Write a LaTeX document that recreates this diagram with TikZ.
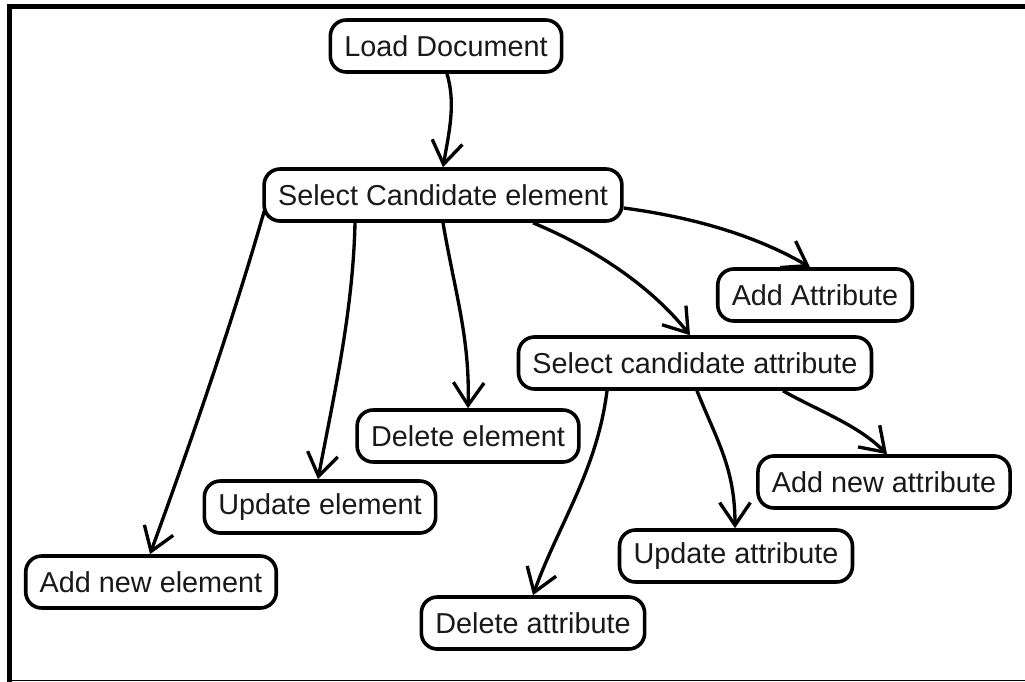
\documentclass[tikz,border=0pt]{standalone}
\usepackage{fontspec}
\setmainfont{Liberation Sans}
\usetikzlibrary{arrows.meta,calc}
\begin{document}
\begin{tikzpicture}[x=0.75pt,y=-0.75pt,
  box/.style={draw=black,line width=2.7pt,rounded corners=12pt,fill=white,
    minimum height=39pt,inner xsep=10.5pt,inner ysep=2pt,
    font=\fontsize{21.6pt}{25pt}\selectfont,text=black!90},
  conn/.style={line width=2.5pt,-{Straight Barb[length=17pt,width=23pt,line width=2.5pt]}}]
\useasboundingbox (0,0) rectangle (1025,682);
% frame
\fill[black] (7,4) rectangle (1025,9);
\fill[black] (7,4) rectangle (12,682);
\draw[line width=0.75pt] (12,680.5) -- (1025,680.5);
% nodes
\node[box] (load) at (446,46) {Load Document};
\node[box] (sce) at (443,195) {Select Candidate element};
\node[box] (addattr) at (815,295) {Add Attribute};
\node[box] (sca) at (695,363) {Select candidate attribute};
\node[box] (delel) at (468,436) {Delete element};
\node[box] (addnewattr) at (884,482) {Add new attribute};
\node[box] (updel) at (320,507) {Update element};
\node[box] (updattr) at (736,556) {Update attribute};
\node[box] (addnewel) at (151,582) {Add new element};
\node[box] (delattr) at (533,623) {Delete attribute};
% connectors
\draw[conn] ($(load.south)+(1,0)$) .. controls +(9,30) and +(6,-35) .. (sce.north);
\draw[conn] ($(sce.south west)+(2,-12)$) .. controls +(-30,105) and +(42,-115) .. ($(addnewel.north)+(-1,0)$);
\draw[conn] ($(sce.south)+(-88,0)$) .. controls +(-2,90) and +(15,-80) .. ($(updel.north)+(-2,0)$);
\draw[conn] (sce.south) .. controls +(12,70) and +(2,-70) .. (delel.north);
\draw[conn] ($(sce.south)+(90,0)$) .. controls +(60,25) and +(-40,-50) .. ($(sca.north)+(-5,0)$);
\draw[conn] ($(sce.east)+(0,13)$) .. controls +(60,8) and +(-60,-35) .. ($(addattr.north)+(-5,0)$);
\draw[conn] ($(sca.south)+(-88,0)$) .. controls +(-10,80) and +(25,-70) .. (delattr.north);
\draw[conn] ($(sca.south)+(2,0)$) .. controls +(20,50) and +(0,-60) .. ($(updattr.north)+(-1,0)$);
\draw[conn] ($(sca.south)+(88,0)$) .. controls +(35,20) and +(-30,-30) .. ($(addnewattr.north)+(3,0)$);
\end{tikzpicture}
\end{document}
